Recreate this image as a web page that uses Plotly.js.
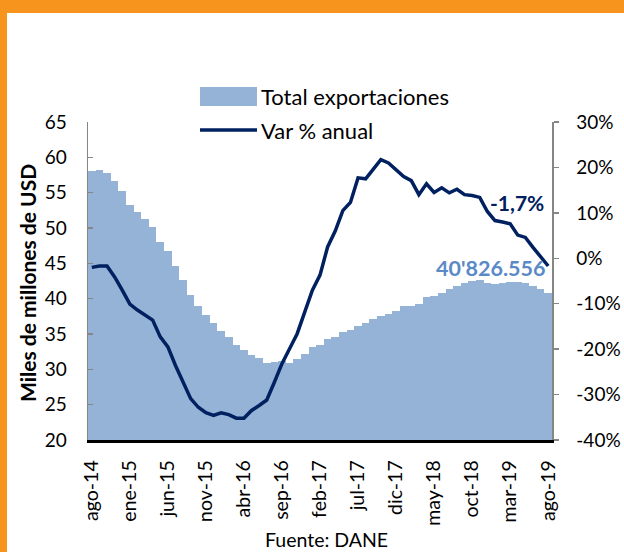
<!DOCTYPE html>
<html><head><meta charset="utf-8">
<script src="https://cdn.plot.ly/plotly-3.0.1.min.js"></script>
<style>
html,body{margin:0;padding:0;background:#fff;}
#wrap{position:relative;width:624px;height:552px;overflow:hidden;}
#chart{position:absolute;left:0;top:0;width:624px;height:552px;}
#topband{position:absolute;left:0;top:0;width:624px;height:13px;background:#F7941D;}
#leftband{position:absolute;left:0;top:0;width:7px;height:552px;background:#F7941D;}
</style></head>
<body><div id="wrap"><div id="chart"></div><div id="topband"></div><div id="leftband"></div></div>
<script>
// Month categories: ago-14 ... ago-19 (61 months)
const monthNames = ['ene','feb','mar','abr','may','jun','jul','ago','sep','oct','nov','dic'];
const startMonth = 7, startYear = 14, nMonths = 61;
const months = [];
for (let k = 0; k < nMonths; k++) {
  const m = (startMonth + k) % 12, y = startYear + Math.floor((startMonth + k) / 12);
  months.push(monthNames[m] + '-' + y);
}

// Total exportaciones (miles de millones de USD, 12-month total)
const totalExport = [
  58.0, 58.25, 57.8, 56.6, 55.2, 53.3, 52.3, 51.3, 50.1, 48.0,
  46.7, 44.6, 42.7, 40.5, 39.0, 37.7, 36.5, 35.4, 34.6, 33.4,
  32.7, 32.0, 31.6, 30.9, 31.1, 31.2, 30.9, 31.4, 32.1, 33.1,
  33.5, 34.3, 34.6, 35.3, 35.5, 36.2, 36.5, 37.1, 37.5, 37.8,
  38.2, 38.9, 39.0, 39.2, 40.3, 40.4, 40.8, 41.4, 41.8, 42.15,
  42.5, 42.7, 42.25, 42.1, 42.2, 42.3, 42.3, 42.2, 41.8, 41.3,
  40.83
];

// Var % anual
const varAnual = [
  -2.0, -1.7, -1.7, -4.1, -7.0, -10.1, -11.4, -12.5, -13.6, -17.3,
  -19.5, -23.6, -27.3, -30.9, -32.8, -34.0, -34.6, -34.0, -34.4, -35.2,
  -35.2, -33.5, -32.4, -31.2, -27.3, -23.2, -19.9, -16.6, -11.8, -7.0,
  -3.7, 2.5, 6.0, 10.5, 12.3, 17.7, 17.5, 19.6, 21.7, 21.0,
  19.4, 18.0, 17.1, 14.0, 16.4, 14.5, 15.5, 14.4, 15.2, 14.0,
  13.8, 13.4, 10.3, 8.3, 8.0, 7.6, 5.1, 4.6, 2.4, 0.4,
  -1.7
];

const xTickLabels = ['ago-14','ene-15','jun-15','nov-15','abr-16','sep-16','feb-17','jul-17','dic-17','may-18','oct-18','mar-19','ago-19'];
const leftTicks = [20,25,30,35,40,45,50,55,60,65];
const rightTicks = [-40,-30,-20,-10,0,10,20,30];
const rightTickText = ['-40%','-30%','-20%','-10%','0%','10%','20%','30%'];

const yTitle = 'Miles de millones de USD';
const sourceText = 'Fuente: DANE';
const lastValueLabel = "40'826.556";
const lastVarLabel = "-1,7%";

const areaColor = '#95B3D7';
const lineColor = '#002060';
const fontFam = 'Lato, sans-serif';

const traces = [
  {
    type: 'bar', x: months, y: totalExport, name: 'Total exportaciones',
    marker: {color: areaColor, line: {width: 0}}, showlegend: false, hoverinfo: 'skip'
  },
  {
    type: 'scatter', mode: 'lines', x: months, y: varAnual, yaxis: 'y2', name: 'Var % anual',
    line: {color: lineColor, width: 3.5}, showlegend: false, hoverinfo: 'skip'
  }
];

const px = v => (v - 88) / 464;
const py = v => (440 - v) / 318;

const layout = {
  width: 624, height: 552,
  margin: {l: 88, r: 72, t: 122, b: 112},
  paper_bgcolor: 'rgba(0,0,0,0)', plot_bgcolor: 'rgba(0,0,0,0)',
  font: {family: fontFam, size: 19, color: '#000'},
  bargap: 0,
  showlegend: false,
  xaxis: {
    type: 'category', range: [-0.5, 60.5],
    tickmode: 'array', tickvals: xTickLabels, ticktext: xTickLabels,
    tickangle: -90, ticks: '', showgrid: false, zeroline: false,
    showline: true, linecolor: '#000', linewidth: 2.5,
    ticklabelstandoff: 10, tickfont: {size: 19.5}
  },
  yaxis: {
    range: [20, 65], tickmode: 'array', tickvals: leftTicks,
    ticks: 'inside', ticklen: 5, tickcolor: '#868686', tickwidth: 1.5,
    showline: true, linecolor: '#868686', linewidth: 1.5,
    showgrid: false, zeroline: false, ticklabelstandoff: 16
  },
  yaxis2: {
    overlaying: 'y', side: 'right', range: [-40, 30],
    tickmode: 'array', tickvals: rightTicks, ticktext: rightTickText,
    ticks: 'outside', ticklen: 5, tickcolor: '#868686', tickwidth: 1.5,
    showline: true, linecolor: '#868686', linewidth: 1.5,
    showgrid: false, zeroline: false, ticklabelstandoff: 14
  },
  shapes: [
    {type: 'rect', xref: 'paper', yref: 'paper', x0: px(200), x1: px(257), y0: py(106), y1: py(87),
     fillcolor: areaColor, line: {width: 0}, layer: 'above'},
    {type: 'line', xref: 'paper', yref: 'paper', x0: px(200), x1: px(257), y0: py(130), y1: py(130),
     line: {color: lineColor, width: 3.5}, layer: 'above'}
  ],
  annotations: [
    {xref: 'paper', yref: 'paper', x: px(259), y: py(96), xanchor: 'left', yanchor: 'middle',
     text: traces[0].name, showarrow: false, font: {size: 22, color: '#000'}},
    {xref: 'paper', yref: 'paper', x: px(259), y: py(130), xanchor: 'left', yanchor: 'middle',
     text: traces[1].name, showarrow: false, font: {size: 22, color: '#000'}},
    {xref: 'paper', yref: 'paper', x: px(546), y: py(202), xanchor: 'right', yanchor: 'middle',
     text: '<b>' + lastVarLabel + '</b>', showarrow: false, font: {size: 21, color: lineColor}},
    {xref: 'paper', yref: 'paper', x: px(547), y: py(268), xanchor: 'right', yanchor: 'middle',
     text: '<b>' + lastValueLabel + '</b>', showarrow: false, font: {size: 21.5, color: '#5A8AC6'}},
    {xref: 'paper', yref: 'paper', x: px(27), y: py(283), xanchor: 'center', yanchor: 'middle',
     text: '<b>' + yTitle + '</b>', textangle: -90, showarrow: false, font: {size: 21, color: '#000'}},
    {xref: 'paper', yref: 'paper', x: px(326), y: py(539), xanchor: 'center', yanchor: 'middle',
     text: sourceText, showarrow: false, borderpad: 0, font: {size: 19.5, color: '#000'}}
  ]
};

Plotly.newPlot('chart', traces, layout, {staticPlot: true, displayModeBar: false});
</script>
</body></html>
